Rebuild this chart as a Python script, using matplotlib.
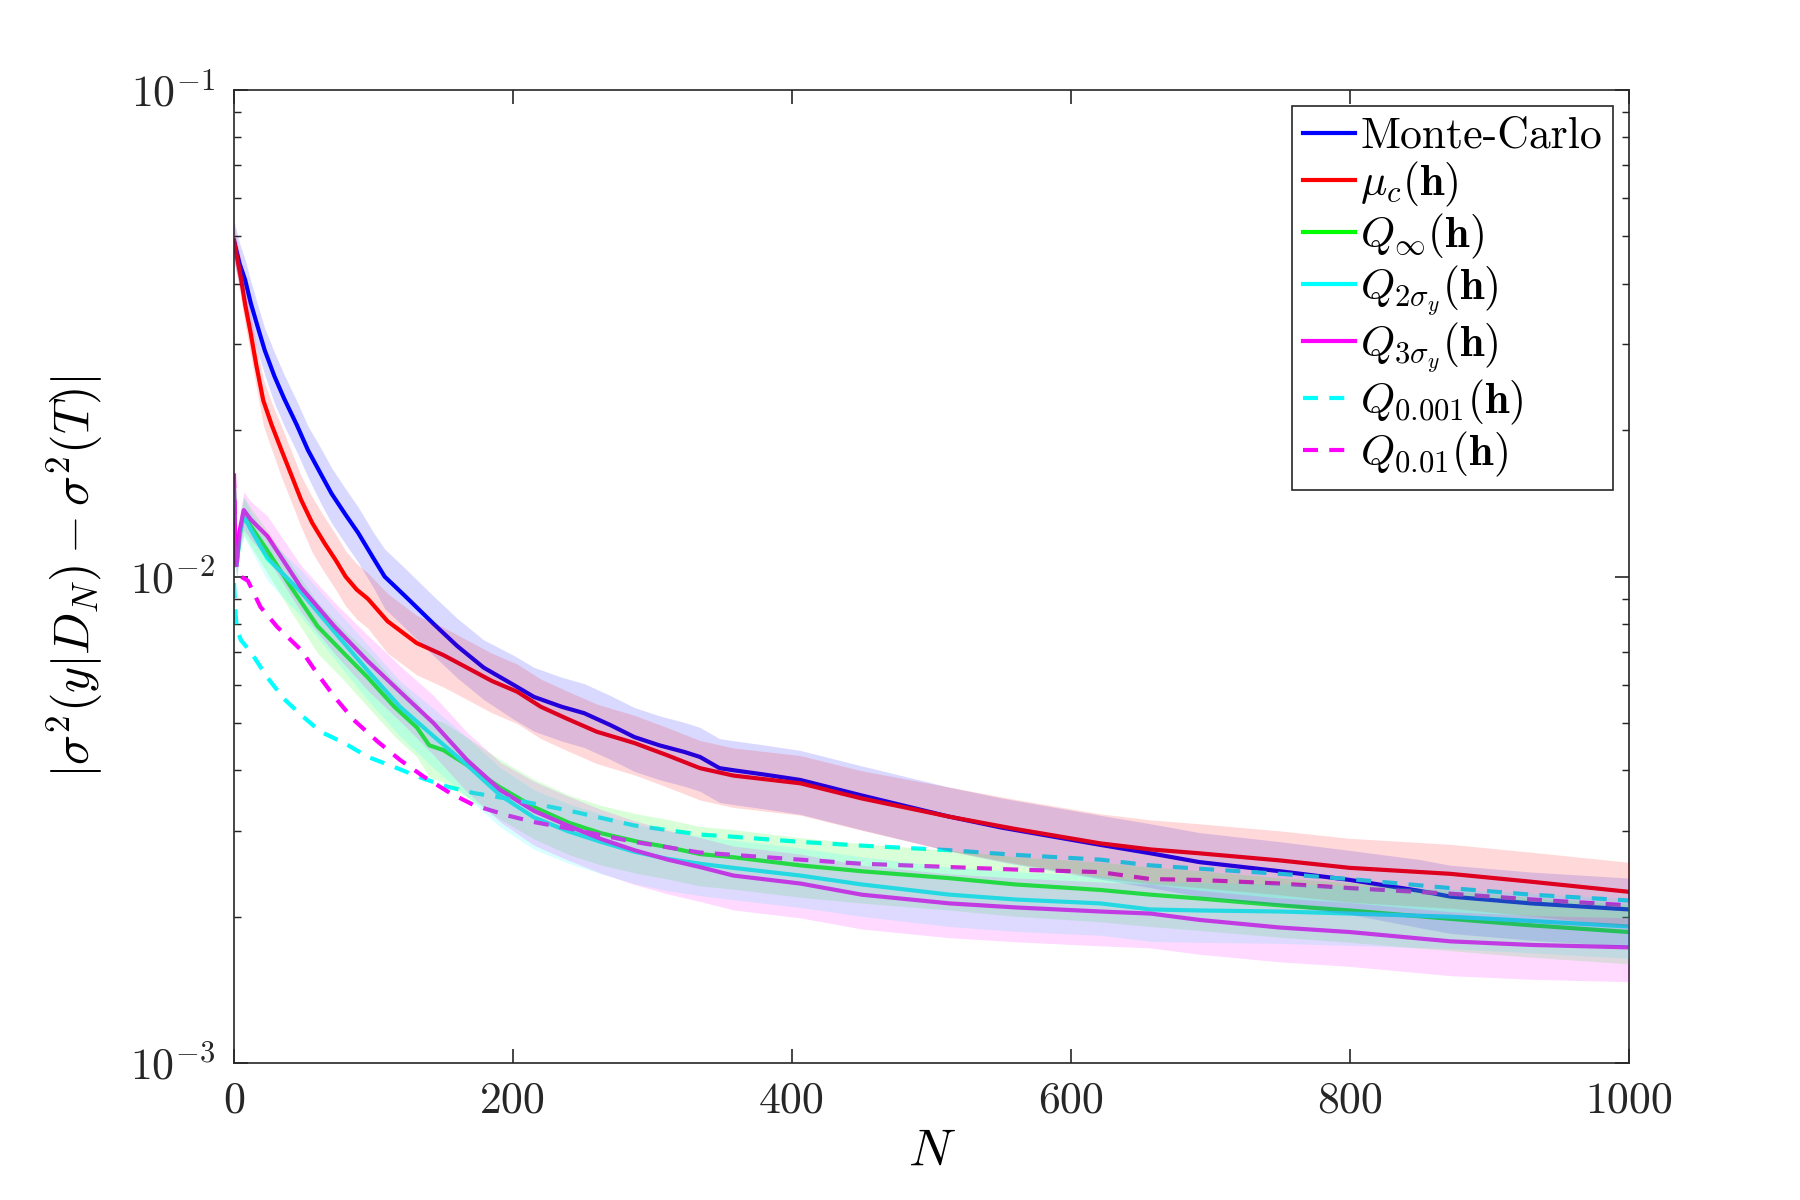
import numpy as np
import matplotlib
matplotlib.use("Agg")
import matplotlib.pyplot as plt
from matplotlib.ticker import LogLocator, NullFormatter, FixedLocator

plt.rcParams["font.family"] = "serif"
plt.rcParams["font.serif"] = ["cmr10", "DejaVu Serif"]
plt.rcParams["mathtext.fontset"] = "cm"
plt.rcParams["axes.unicode_minus"] = False

# ---- data (N, |sigma^2 error|, relative band half-width) ----
mc_N = [0, 4, 8, 12, 17, 22, 29, 36, 45, 53, 62, 70, 80, 89, 100, 108, 123, 143, 160, 179, 200, 215, 235,
        251, 270, 287, 305, 323, 334, 348, 358, 380, 406, 450, 513, 550, 621, 657, 692, 750, 800, 850, 872,
        930, 1000]
mc_val = [0.049, 0.044, 0.0407, 0.0365, 0.0326, 0.0292, 0.0258, 0.0232, 0.0205, 0.0182, 0.0163, 0.0148,
          0.0134, 0.0123, 0.0109, 0.0100, 0.0091, 0.0080, 0.0072, 0.0065, 0.0060, 0.00566, 0.00540,
          0.00524, 0.00495, 0.00468, 0.00450, 0.00436, 0.00426, 0.00404, 0.00400, 0.00392, 0.00382,
          0.00355, 0.00321, 0.00305, 0.00281, 0.00270, 0.00259, 0.00248, 0.00238, 0.00226, 0.00220,
          0.00213, 0.00207]
mc_spread = [0.10, 0.10, 0.10, 0.11, 0.11, 0.11, 0.12, 0.12, 0.12, 0.12, 0.13, 0.13, 0.13, 0.13, 0.13,
             0.14, 0.14, 0.14, 0.14, 0.14, 0.15, 0.15, 0.15, 0.15, 0.15, 0.15, 0.15, 0.15, 0.15, 0.15,
             0.15, 0.15, 0.15, 0.15, 0.15, 0.15, 0.15, 0.15, 0.15, 0.15, 0.15, 0.16, 0.16, 0.16, 0.16]

mu_N = [0, 2, 5, 8, 12, 16, 21, 27, 34, 41, 48, 56, 65, 73, 80, 88, 96, 110, 131, 150, 167, 185, 203,
        220, 239, 260, 287, 310, 334, 358, 406, 450, 513, 560, 621, 657, 692, 750, 800, 872, 930, 1000]
mu_val = [0.049, 0.0455, 0.041, 0.0362, 0.0316, 0.0272, 0.0230, 0.0205, 0.0182, 0.0162, 0.0144, 0.0129,
          0.0117, 0.0108, 0.0100, 0.0094, 0.0090, 0.0081, 0.0073, 0.0069, 0.0065, 0.0061, 0.0058,
          0.0054, 0.0051, 0.0048, 0.00455, 0.0043, 0.00404, 0.0039, 0.00376, 0.00350, 0.00321, 0.00303,
          0.00283, 0.00275, 0.00270, 0.00261, 0.00252, 0.00245, 0.00236, 0.00225]
mu_spread = [0.08, 0.08, 0.09, 0.09, 0.10, 0.10, 0.11, 0.11, 0.12, 0.12, 0.12, 0.13, 0.13, 0.13, 0.13,
             0.13, 0.13, 0.14, 0.14, 0.14, 0.14, 0.14, 0.14, 0.14, 0.14, 0.14, 0.14, 0.14, 0.14, 0.14,
             0.14, 0.14, 0.15, 0.15, 0.15, 0.15, 0.15, 0.15, 0.15, 0.15, 0.15, 0.15]

qinf_N = [0, 1, 2, 4, 7, 12, 24, 40, 60, 80, 96, 115, 131, 140, 150, 167, 190, 215, 240, 263, 290, 311,
          334, 358, 406, 450, 513, 560, 621, 657, 692, 750, 800, 872, 930, 1000]
qinf_val = [0.0150, 0.0113, 0.0107, 0.0122, 0.0134, 0.0127, 0.0113, 0.0096, 0.0079, 0.0069, 0.0062,
            0.0054, 0.0049, 0.0045, 0.0044, 0.0041, 0.0037, 0.00336, 0.00312, 0.00297, 0.00285, 0.00278,
            0.00269, 0.00265, 0.00255, 0.00248, 0.00240, 0.00233, 0.00227, 0.00222, 0.00218, 0.00211,
            0.00206, 0.00198, 0.00192, 0.00186]
qinf_spread = [0.05, 0.06, 0.07, 0.08, 0.09, 0.09, 0.10, 0.11, 0.12, 0.12, 0.13, 0.13, 0.13, 0.14, 0.14,
               0.14, 0.14, 0.14, 0.14, 0.14, 0.14, 0.14, 0.14, 0.14, 0.14, 0.14, 0.14, 0.14, 0.14, 0.14,
               0.14, 0.14, 0.14, 0.14, 0.14, 0.14]

q2_N = [0, 1, 2, 4, 7, 12, 24, 48, 72, 96, 119, 143, 167, 191, 215, 239, 263, 287, 311, 334, 358, 406,
        450, 513, 560, 621, 657, 692, 750, 800, 872, 930, 1000]
q2_val = [0.0150, 0.0112, 0.0106, 0.0122, 0.0133, 0.0125, 0.0109, 0.0093, 0.0077, 0.0064, 0.0054,
          0.0047, 0.0041, 0.00355, 0.0032, 0.00300, 0.00285, 0.00272, 0.00263, 0.00257, 0.00252,
          0.00243, 0.00233, 0.00222, 0.00217, 0.00213, 0.00207, 0.00206, 0.00205, 0.00203, 0.00200,
          0.00196, 0.00191]
q2_spread = [0.05, 0.06, 0.07, 0.08, 0.09, 0.09, 0.10, 0.11, 0.12, 0.13, 0.13, 0.14, 0.14, 0.14, 0.14,
             0.14, 0.14, 0.14, 0.14, 0.14, 0.14, 0.14, 0.14, 0.14, 0.14, 0.14, 0.14, 0.14, 0.14, 0.14,
             0.14, 0.14, 0.14]

q3_N = [0, 1, 2, 4, 7, 12, 24, 48, 72, 96, 119, 143, 167, 191, 215, 239, 263, 287, 311, 334, 358, 406,
        450, 513, 560, 621, 657, 692, 750, 800, 872, 930, 1000]
q3_val = [0.0155, 0.0113, 0.0107, 0.0124, 0.0137, 0.0131, 0.0121, 0.0095, 0.0079, 0.0067, 0.0058,
          0.0050, 0.0042, 0.00364, 0.00330, 0.00308, 0.00289, 0.00274, 0.00262, 0.00253, 0.00243,
          0.00234, 0.00222, 0.00213, 0.00209, 0.00205, 0.00203, 0.00197, 0.00190, 0.00186, 0.00178,
          0.00175, 0.00173]
q3_spread = [0.05, 0.06, 0.07, 0.08, 0.09, 0.09, 0.10, 0.11, 0.12, 0.13, 0.13, 0.14, 0.14, 0.14, 0.15,
             0.15, 0.15, 0.15, 0.15, 0.15, 0.15, 0.15, 0.15, 0.15, 0.15, 0.15, 0.15, 0.15, 0.15, 0.15,
             0.15, 0.15, 0.15]

q001_N = [0, 1, 2, 5, 12, 24, 36, 48, 62, 79, 96, 115, 134, 153, 172, 203, 239, 287, 334, 358, 406, 450,
          513, 560, 621, 657, 692, 750, 800, 872, 930, 1000]
q001_val = [0.0097, 0.0085, 0.0078, 0.0074, 0.0070, 0.0062, 0.0056, 0.0052, 0.0048, 0.00455, 0.00426,
            0.00406, 0.00386, 0.00370, 0.00359, 0.00347, 0.00331, 0.00308, 0.00295, 0.00292, 0.00285,
            0.00280, 0.00274, 0.00268, 0.00262, 0.00255, 0.00251, 0.00245, 0.00239, 0.00229, 0.00222,
            0.00216]

q01_N = [0, 1, 3, 5, 10, 19, 31, 48, 60, 72, 86, 103, 119, 136, 155, 172, 196, 215, 239, 287, 334, 406,
         450, 513, 560, 621, 657, 692, 750, 800, 872, 930, 1000]
q01_val = [0.0163, 0.0108, 0.0102, 0.0100, 0.0098, 0.00866, 0.00788, 0.00707, 0.0063, 0.00566, 0.00507,
           0.00458, 0.00420, 0.00388, 0.00359, 0.00339, 0.00323, 0.00313, 0.00304, 0.00285, 0.00271,
           0.00262, 0.00257, 0.00253, 0.00250, 0.00247, 0.00239, 0.00238, 0.00234, 0.00229, 0.00223,
           0.00217, 0.00211]

labels = ["Monte-Carlo", r"$\mu_c(\mathbf{h})$", r"$Q_\infty(\mathbf{h})$", r"$Q_{2\sigma_y}(\mathbf{h})$",
          r"$Q_{3\sigma_y}(\mathbf{h})$", r"$Q_{0.001}(\mathbf{h})$", r"$Q_{0.01}(\mathbf{h})$"]

solid = [(mc_N, mc_val, mc_spread, (0, 0, 1)),
         (mu_N, mu_val, mu_spread, (1, 0, 0)),
         (qinf_N, qinf_val, qinf_spread, (0, 1, 0)),
         (q2_N, q2_val, q2_spread, (0, 1, 1)),
         (q3_N, q3_val, q3_spread, (1, 0, 1))]
dashed = [(q001_N, q001_val, (0, 1, 1)), (q01_N, q01_val, (1, 0, 1))]

fig = plt.figure(figsize=(12, 8), dpi=150)
ax = fig.add_axes([0.13, 0.114, 0.775, 0.811])

handles = []
for (n, v, s, c), lab in zip(solid, labels[:5]):
    h, = ax.plot(n, v, color=c, lw=2.0, zorder=2, label=lab)
    handles.append(h)
for (n, v, c), lab in zip(dashed, labels[5:]):
    h, = ax.plot(n, v, color=c, lw=2.0, ls=(0, (3.6, 2.7)), zorder=2, label=lab)
    handles.append(h)

# translucent bands drawn over the lines, as in the original
for n, v, s, c in solid:
    v = np.array(v); s = np.array(s)
    ax.fill_between(n, v * (1 - s), v * (1 + s), color=c, alpha=0.15, lw=0, zorder=3)

ax.set_yscale("log")
ax.set_xlim(0, 1000)
ax.set_ylim(1e-3, 1e-1)
ax.set_xticks(range(0, 1001, 200))
ax.yaxis.set_major_locator(FixedLocator([1e-3, 1e-2, 1e-1]))
ax.set_yticklabels([r"$10^{-3}$", r"$10^{-2}$", r"$10^{-1}$"])
ax.yaxis.set_minor_locator(LogLocator(base=10, subs=np.arange(2, 10)))
ax.yaxis.set_minor_formatter(NullFormatter())

ax.tick_params(which="both", direction="in", top=True, right=True, colors="#262626", labelsize=21)
ax.tick_params(axis="x", which="major", length=6.5, width=0.8, pad=9)
ax.tick_params(axis="y", which="major", length=6.5, width=0.8, pad=9)
ax.tick_params(axis="y", which="minor", length=3.2, width=0.7)
for sp in ax.spines.values():
    sp.set_color("#262626"); sp.set_linewidth(0.8)

ax.set_xlabel(r"$N$", fontsize=25, labelpad=4)
ax.set_ylabel(r"$|\sigma^2(y|D_N)-\sigma^2(T)|$", fontsize=24, labelpad=12)

leg = ax.legend(handles=handles, loc="upper right", bbox_to_anchor=(0.9885, 0.9836), borderaxespad=0,
                fontsize=21, fancybox=False, edgecolor="#262626", framealpha=1, handlelength=1.2,
                handletextpad=0.12, borderpad=0.25, labelspacing=0.06)
leg.get_frame().set_linewidth(0.8)
leg.set_zorder(5)

fig.savefig("out.png", dpi=150)
